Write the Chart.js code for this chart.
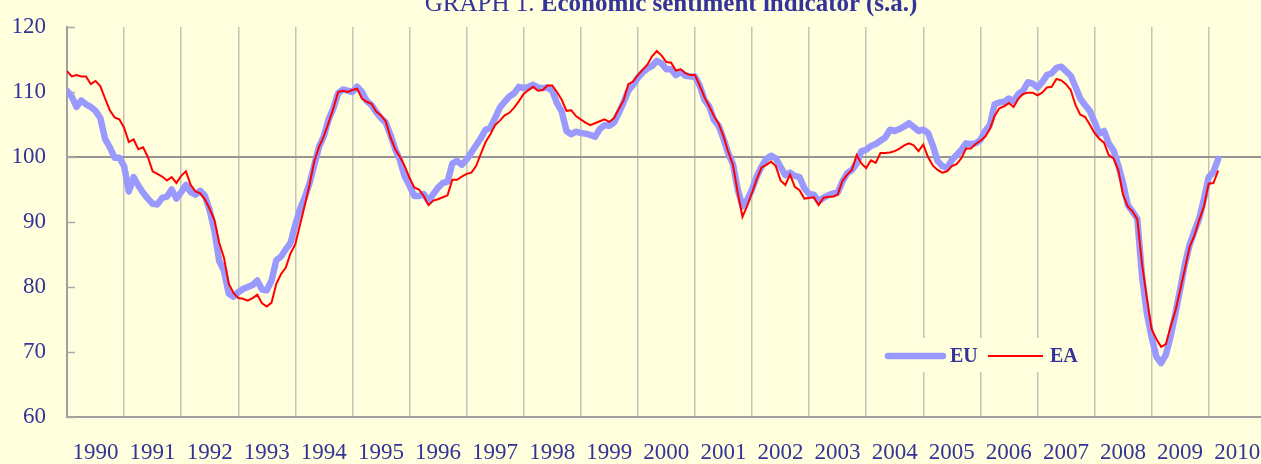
<!DOCTYPE html>
<html>
<head>
<meta charset="utf-8">
<script src="https://cdn.jsdelivr.net/npm/chart.js@4/dist/chart.umd.min.js"></script>
<style>
  html, body { margin: 0; padding: 0; background: #ffffdd; overflow: hidden; }
  #wrap { position: relative; width: 1261px; height: 464px; }
  #grafico { position: absolute; left: 0; top: 0; }
  #titulo {
    position: absolute; left: 0; top: -10px; width: 1342px;
    text-align: center; white-space: nowrap;
    font: 25px 'Liberation Serif', 'Times New Roman', serif; line-height: 25px;
    color: #333399;
  }
</style>
</head>
<body>
<div id="wrap">
  <canvas id="grafico" width="1261" height="464"></canvas>
  <div id="titulo">GRAPH 1. <b>Economic sentiment indicator (s.a.)</b></div>
</div>
<script>
// monthly values, Jan 1990 -> Mar 2010
const yearLabels = ['1990','1991','1992','1993','1994','1995','1996','1997','1998','1999','2000',
                    '2001','2002','2003','2004','2005','2006','2007','2008','2009','2010']

const euValues = [
  110.2, 109.3, 107.7, 108.7, 108.1, 107.7, 107.1, 106.0, 102.8, 101.5, 99.9, 99.9,   // 1990
  98.6, 94.7, 96.9, 95.6, 94.5, 93.6, 92.8, 92.7, 93.7, 93.9, 95.0, 93.6,             // 1991
  94.6, 95.7, 94.6, 94.2, 94.8, 94.0, 91.8, 88.6, 84.0, 82.5, 79.0, 78.5,             // 1992
  79.2, 79.7, 80.0, 80.3, 81.0, 79.6, 79.5, 81.0, 84.1, 84.7, 85.8, 86.8,             // 1993
  89.6, 92.0, 93.8, 96.0, 98.8, 101.6, 103.2, 105.8, 107.5, 109.8, 110.4, 110.2,      // 1994
  110.0, 110.8, 110.0, 108.6, 108.0, 106.9, 106.0, 105.3, 103.4, 101.2, 99.5, 97.0,   // 1995
  95.6, 94.0, 94.0, 94.3, 93.2, 94.3, 95.3, 96.0, 96.2, 99.0, 99.4, 98.8,             // 1996
  99.6, 100.7, 101.8, 102.9, 104.2, 104.5, 106.0, 107.6, 108.5, 109.3, 109.8, 110.8,  // 1997
  110.6, 110.8, 111.1, 110.7, 110.6, 110.7, 110.2, 108.3, 107.0, 104.0, 103.5, 103.9, // 1998
  103.7, 103.6, 103.4, 103.1, 104.3, 104.9, 104.8, 105.3, 106.8, 108.4, 110.2, 111.1, // 1999
  112.2, 113.0, 113.6, 114.0, 114.8, 114.4, 113.5, 113.5, 112.6, 113.1, 112.5, 112.4, // 2000
  112.4, 111.0, 108.8, 107.8, 105.7, 104.8, 102.8, 100.6, 98.9, 95.0, 92.4, 93.4,     // 2001
  95.0, 97.0, 98.5, 99.7, 100.2, 99.8, 98.5, 97.2, 97.6, 97.1, 96.9, 95.2,            // 2002
  94.3, 94.2, 93.2, 93.7, 94.1, 94.4, 94.5, 96.2, 97.5, 98.0, 99.0, 100.9,            // 2003
  101.1, 101.7, 102.0, 102.5, 103.0, 104.2, 104.0, 104.3, 104.7, 105.2, 104.6, 104.0, // 2004
  104.2, 103.7, 101.8, 99.4, 98.6, 98.3, 99.5, 100.3, 101.1, 102.1, 102.0, 102.1,     // 2005
  102.6, 104.0, 104.9, 108.1, 108.4, 108.5, 109.0, 108.6, 109.7, 110.2, 111.5, 111.3, // 2006
  110.7, 111.5, 112.6, 112.9, 113.7, 113.9, 113.2, 112.5, 110.8, 109.0, 108.0, 107.1, // 2007
  105.4, 103.6, 104.0, 102.1, 101.0, 98.7, 96.0, 92.6, 91.6, 90.5, 81.6, 76.0,        // 2008
  72.3, 69.3, 68.3, 69.6, 72.4, 75.9, 79.6, 83.5, 86.5, 88.6, 90.5, 93.5,             // 2009
  96.9, 97.7, 99.7                                                                    // 2010
]

const eaValues = [
  113.2, 112.4, 112.6, 112.4, 112.4, 111.2, 111.7, 110.9, 109.0, 107.2, 106.1, 105.8, // 1990
  104.5, 102.3, 102.7, 101.2, 101.5, 100.0, 97.8, 97.4, 97.0, 96.4, 96.9, 96.0,       // 1991
  97.1, 97.8, 95.7, 94.7, 94.4, 93.5, 92.0, 90.3, 86.8, 84.5, 80.5, 79.1,             // 1992
  78.3, 78.2, 77.9, 78.3, 78.8, 77.5, 77.0, 77.6, 80.5, 82.0, 83.0, 85.2,             // 1993
  86.6, 89.6, 92.6, 95.8, 99.4, 101.6, 103.2, 105.3, 107.5, 110.0, 110.2, 110.0,      // 1994
  110.3, 110.5, 109.0, 108.5, 108.2, 107.0, 106.4, 105.5, 103.0, 101.2, 100.0, 98.6,  // 1995
  96.8, 95.3, 95.0, 94.0, 92.6, 93.3, 93.5, 93.8, 94.1, 96.5, 96.5, 97.0,             // 1996
  97.4, 97.6, 98.6, 100.5, 102.3, 103.5, 104.9, 105.6, 106.4, 106.8, 107.6, 108.6,    // 1997
  109.7, 110.3, 110.8, 110.2, 110.3, 111.0, 111.0, 110.0, 108.8, 107.1, 107.2, 106.3, // 1998
  105.8, 105.3, 104.9, 105.2, 105.5, 105.8, 105.4, 106.0, 107.4, 108.7, 111.2, 111.6, // 1999
  112.6, 113.4, 114.2, 115.5, 116.3, 115.6, 114.6, 114.5, 113.3, 113.5, 112.9, 112.6, // 2000
  112.6, 111.0, 109.2, 107.8, 106.3, 105.1, 103.2, 100.8, 98.8, 94.5, 90.8, 92.5,     // 2001
  94.5, 96.6, 98.4, 98.8, 99.3, 98.6, 96.4, 95.7, 97.3, 95.4, 94.9, 93.6,             // 2002
  93.7, 93.8, 92.6, 93.7, 93.9, 93.9, 94.2, 96.3, 97.3, 98.0, 100.3, 99.0,            // 2003
  98.3, 99.5, 99.1, 100.6, 100.6, 100.7, 100.9, 101.3, 101.8, 102.1, 101.8, 100.9,    // 2004
  101.9, 100.0, 98.7, 98.0, 97.6, 97.8, 98.6, 98.9, 99.8, 101.3, 101.3, 102.0,        // 2005
  102.5, 103.1, 104.3, 106.3, 107.5, 107.8, 108.3, 107.7, 109.0, 109.7, 109.9, 109.9, // 2006
  109.5, 109.9, 110.7, 110.8, 112.0, 111.8, 111.2, 110.3, 108.0, 106.5, 106.2, 105.0, // 2007
  103.7, 102.8, 102.2, 100.3, 99.8, 98.0, 94.2, 92.4, 91.6, 90.4, 83.5, 78.3,         // 2008
  73.5, 72.0, 70.8, 71.2, 73.9, 76.3, 79.5, 82.8, 86.2, 87.9, 90.3, 92.4,             // 2009
  95.9, 96.0, 97.9                                                                    // 2010
]

const corTexto = '#333399'
const corFundo = '#ffffdd'
const corEixo = '#a0a0a0'

Chart.defaults.font.family = "'Liberation Serif', 'Times New Roman', serif"
Chart.defaults.font.size = 23
Chart.defaults.color = corTexto

const toPoints = vals => vals.map((v, i) => ({ x: i, y: v }))

// small tick marks pointing into the plot on the value axis
const marcasInternas = {
  id: 'marcasInternas',
  beforeDatasetsDraw(chart) {
    const c = chart.ctx
    const y = chart.scales.y
    const left = chart.chartArea.left
    c.save()
    c.strokeStyle = '#a8a8a8'
    c.lineWidth = 1.5
    y.ticks.forEach(t => {
      const py = Math.round(y.getPixelForValue(t.value)) + 0.5
      c.beginPath()
      c.moveTo(left, py)
      c.lineTo(left + 8, py)
      c.stroke()
    })
    c.restore()
  }
}

// legend drawn inside the plot, over the grid lines
const legendaInterna = {
  id: 'legendaInterna',
  afterDatasetsDraw(chart) {
    const c = chart.ctx
    c.save()
    c.fillStyle = corFundo
    c.fillRect(880, 338, 202, 34)
    c.font = "bold 20px 'Liberation Serif', serif"
    c.textBaseline = 'middle'
    c.fillStyle = corTexto
    chart.data.datasets.forEach((ds, k) => {
      const x = 888 + k * 100
      c.strokeStyle = ds.borderColor
      c.lineWidth = ds.borderWidth
      c.lineCap = ds.borderCapStyle || 'butt'
      c.beginPath()
      c.moveTo(x, 356)
      c.lineTo(x + 55, 356)
      c.stroke()
      c.fillText(ds.label, x + 62, 357)
    })
    c.restore()
  }
}

const data = {
  datasets: [
    {
      label: 'EU',
      data: toPoints(euValues),
      borderColor: '#9999ff',
      borderWidth: 6.5,
      borderCapStyle: 'round',
      borderJoinStyle: 'round',
      pointRadius: 0,
      order: 2
    },
    {
      label: 'EA',
      data: toPoints(eaValues),
      borderColor: '#ff0000',
      borderWidth: 2,
      pointRadius: 0,
      order: 1
    }
  ]
}

const config = {
  type: 'line',
  data,
  options: {
    responsive: false,
    animation: false,
    devicePixelRatio: 1,
    layout: { padding: { top: 27, right: 0, left: 0, bottom: 0 } },
    plugins: { legend: { display: false }, tooltip: { enabled: false } },
    scales: {
      x: {
        type: 'linear',
        min: 0,
        max: 251,
        afterBuildTicks: s => { s.ticks = yearLabels.map((_, k) => ({ value: k * 12 })) },
        afterFit: s => { s.height = 47; s.paddingLeft = 0; s.paddingRight = 0 },
        grid: { color: '#c4c4b6', lineWidth: 1.5, drawTicks: false },
        border: { color: corEixo, width: 2 },
        ticks: {
          labelOffset: 28.5,
          padding: 22,
          maxRotation: 0,
          autoSkip: false,
          callback: v => yearLabels[v / 12]
        }
      },
      y: {
        min: 60,
        max: 120,
        afterFit: s => { s.width = 67; s.paddingTop = 0; s.paddingBottom = 0 },
        ticks: { stepSize: 10, padding: 21 },
        grid: {
          color: c => (c.tick && c.tick.value === 100) ? '#959595' : 'rgba(0,0,0,0)',
          lineWidth: 2,
          drawTicks: false
        },
        border: { color: corEixo, width: 2 }
      }
    }
  },
  plugins: [marcasInternas, legendaInterna]
}

const graph = new Chart(document.getElementById('grafico'), config)
</script>
</body>
</html>
